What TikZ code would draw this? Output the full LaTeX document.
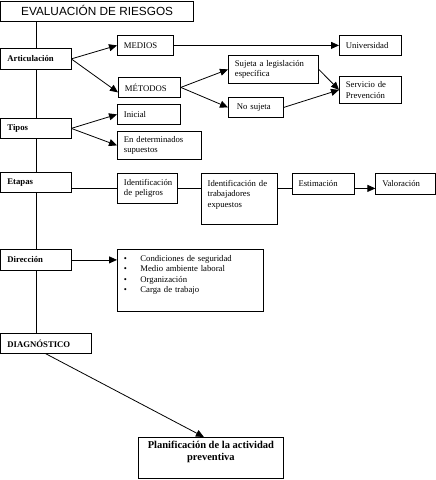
\documentclass[tikz,border=0pt]{standalone}
\usepackage{fontspec}
\setmainfont{Liberation Serif}
\newfontfamily\titlefont{Liberation Sans}
\usepackage{tikz}
\usetikzlibrary{arrows.meta,positioning}

\begin{document}
\begin{tikzpicture}[
        x=1pt, y=-1pt,
        line width=0.8pt,
        every node/.style={font=\fontsize{8.7pt}{10.5pt}\selectfont},
        box/.style={rectangle, draw, fill=white, anchor=north west, align=left,
            inner xsep=6.5pt, inner ysep=3pt, text width=#1, minimum height=20pt},
        hd/.style={box=#1, font=\fontsize{8.7pt}{10.5pt}\selectfont\bfseries},
        arr/.style={-{Triangle[length=8pt,width=7pt]}}
    ]
        \useasboundingbox (0,0) rectangle (436,480);

        % left column
        \node[rectangle, draw, fill=white, anchor=north west, minimum width=192.5pt, minimum height=20pt,
            inner sep=0pt, font=\titlefont\fontsize{11.8pt}{13pt}\selectfont] (title) at (0.5,0.5) {EVALUACIÓN DE RIESGOS};
        \node[hd=57pt, minimum height=21pt] (art) at (0.5,48) {Articulación};
        \node[hd=57pt] (tipos) at (0.5,118) {Tipos};
        \node[hd=57pt] (etapas) at (0.5,172) {Etapas};
        \node[hd=57pt, minimum height=21pt] (direc) at (0.5,249) {Dirección};
        \node[hd=77pt] (diag) at (0.5,333) {DIAGNÓSTICO};

        % articulacion
        \node[box=43pt] (medios) at (117,35) {MEDIOS};
        \node[box=49pt] (metodos) at (118,77) {MÉTODOS};
        \node[box=49pt] (univ) at (339,35) {Universidad};
        \node[box=77pt, minimum height=28pt] (sujeta) at (228,55) {Sujeta a legislación\\específica};
        \node[box=42pt] (nosujeta) at (228,97) {\hspace{2pt}No sujeta};
        \node[box=49pt, minimum height=27pt] (servicio) at (339,76) {Servicio de\\Prevención};

        % tipos
        \node[box=50pt] (inicial) at (117,104) {Inicial};
        \node[box=71pt, minimum height=28pt] (endet) at (117,131) {En determinados\\supuestos};

        % etapas
        \node[box=47pt, minimum height=30pt] (idpel) at (117,173) {Identificación\\de peligros};
        \node[box=63pt, minimum height=51pt, right=23pt of idpel.north east, anchor=north west] (idtrab)
            {Identificación de\\trabajadores\\expuestos\\\mbox{}};
        \node[box=49pt, minimum height=21pt, right=14pt of idtrab.north east, anchor=north west] (estim) {Estimación};
        \node[box=47pt, minimum height=21pt, right=21pt of estim.north east, anchor=north west] (valor) {Valoración};

        % direccion
        \node[box=133pt, minimum height=62pt] (lista) at (117,249)
            {\makebox[16.5pt][l]{\textbullet}Condiciones de seguridad\\
             \makebox[16.5pt][l]{\textbullet}Medio ambiente laboral\\
             \makebox[16.5pt][l]{\textbullet}Organización\\
             \makebox[16.5pt][l]{\textbullet}Carga de trabajo\\[2pt]\mbox{}};

        % planificacion
        \node[rectangle, draw, fill=white, anchor=north west, align=center, minimum width=145pt, minimum height=41pt,
            font=\fontsize{10.5pt}{11.5pt}\selectfont\bfseries] (plan) at (138,437)
            {Planificación de la actividad\\preventiva\\[3pt]};

        % trunk
        \draw (title.south -| art.north) -- (art.north);
        \draw (art.south) -- (tipos.north);
        \draw (tipos.south) -- (etapas.north);
        \draw (etapas.south) -- (direc.north);
        \draw (direc.south) -- (diag.north -| direc.south);

        % connectors
        \draw[arr] (art.east) -- (medios.west);
        \draw[arr] (art.east) -- ([yshift=-5pt]metodos.west);
        \draw[arr] (medios.east) -- (univ.west);
        \draw[arr] (metodos.east) -- (sujeta.west);
        \draw[arr] (metodos.east) -- (nosujeta.west);
        \draw[arr] (sujeta.east) -- (servicio.west);
        \draw[arr] (nosujeta.east) -- (servicio.west);
        \draw[arr] (tipos.east) -- (inicial.west);
        \draw[arr] (tipos.east) -- (endet.west);
        \draw (etapas.east |- idpel.west) -- (idpel.west);
        \draw (idpel.east) -- (idpel.east -| idtrab.west);
        \draw (idpel.east -| idtrab.east) -- (idpel.east -| estim.west);
        \draw[arr] (idpel.east -| estim.east) -- (idpel.east -| valor.west);
        \draw[arr] (direc.east) -- (direc.east -| lista.west);
        \draw[arr] (diag.south) -- ([xshift=-7pt]plan.north);
    \end{tikzpicture}
\end{document}
